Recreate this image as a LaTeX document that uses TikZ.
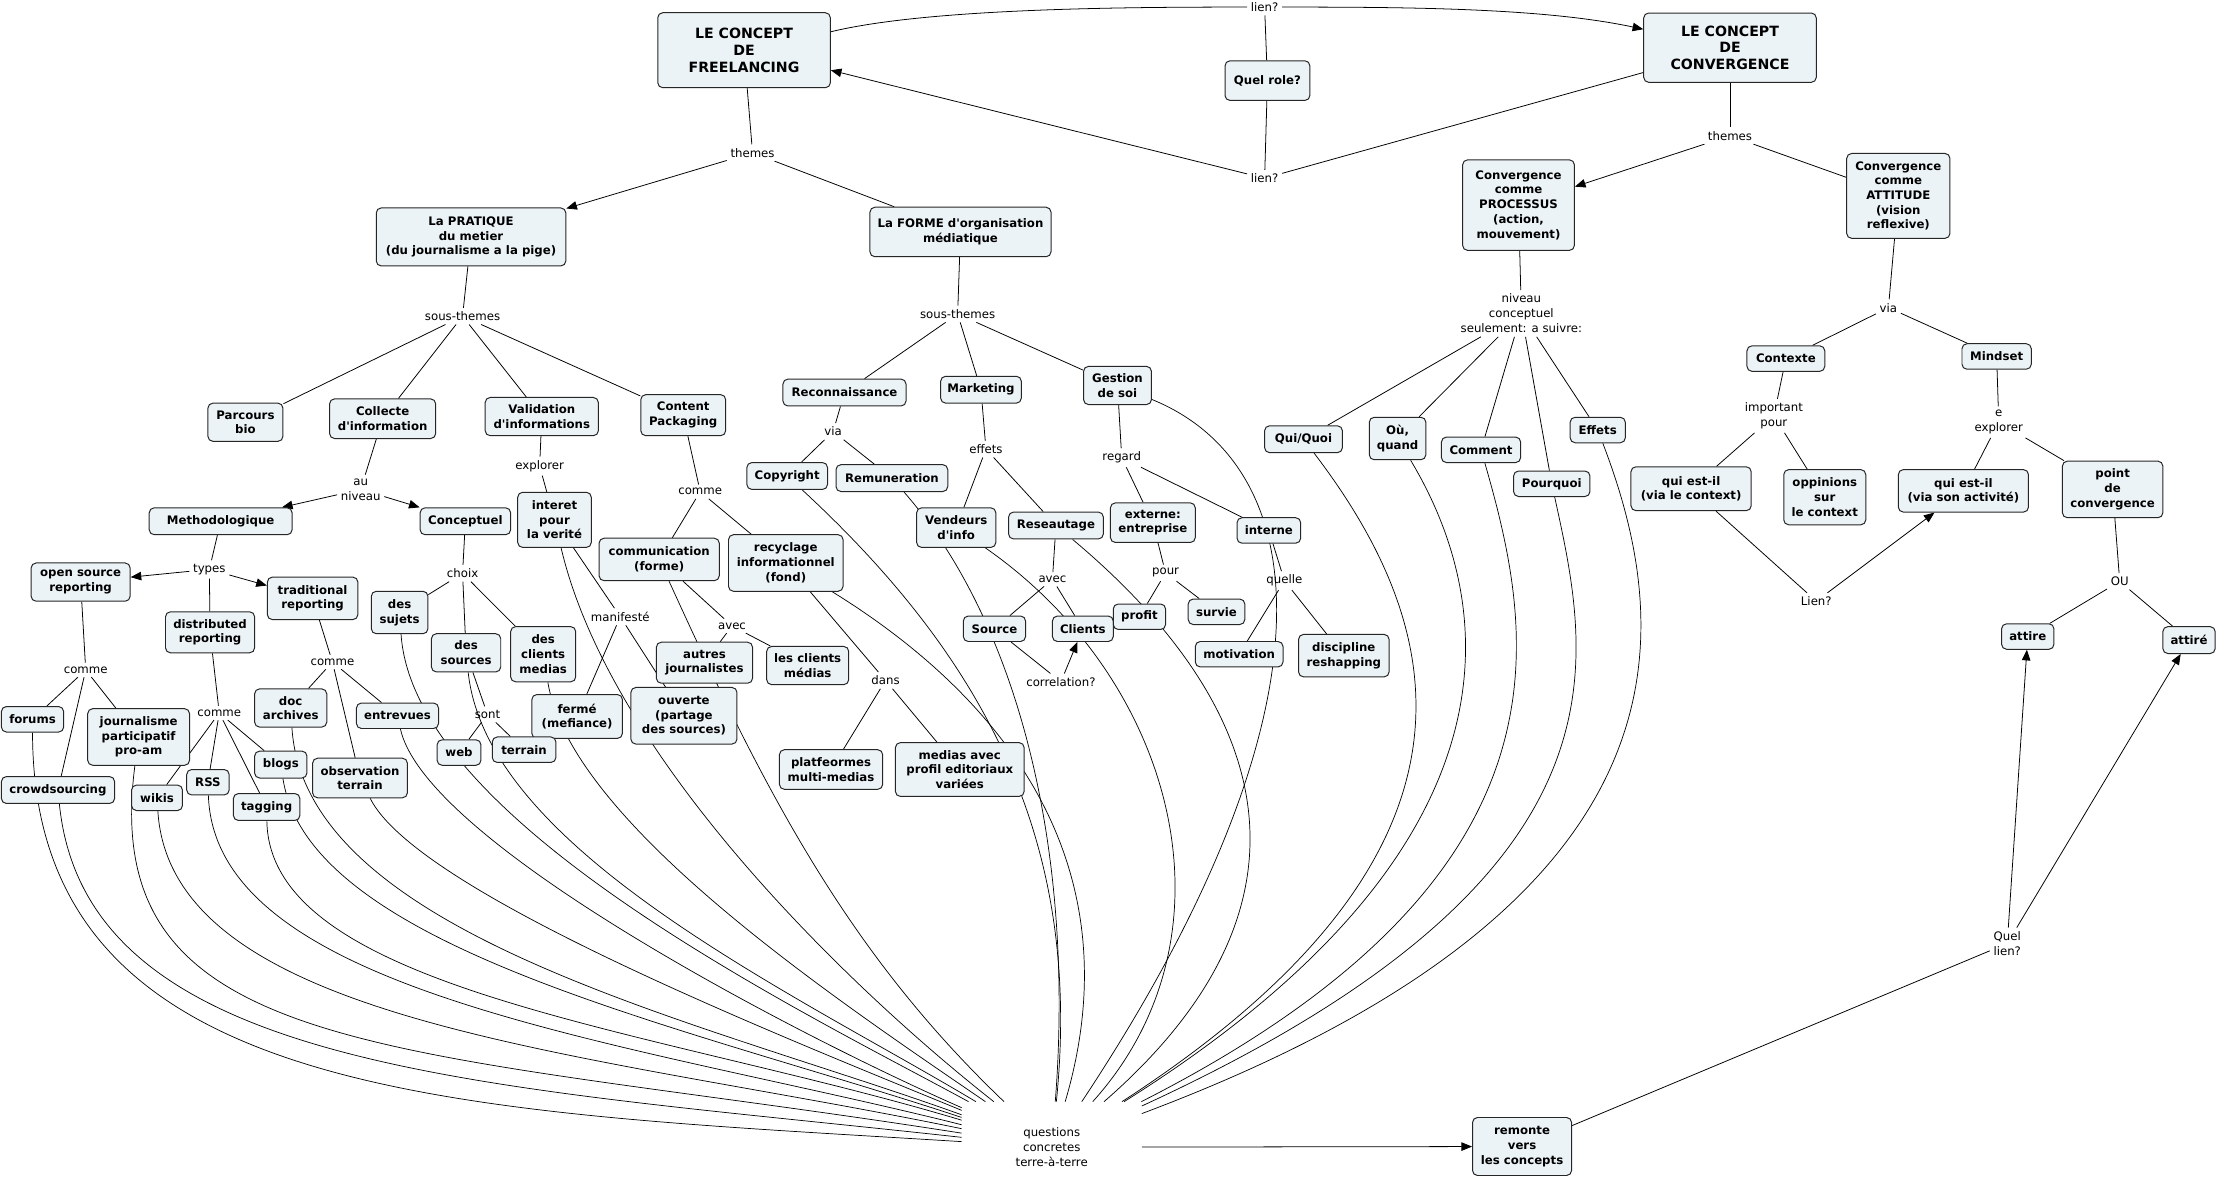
\documentclass[tikz,border=0pt]{standalone}
\usepackage{fontspec}
\setmainfont{DejaVu Sans}[Ligatures=TeXOff]
\usetikzlibrary{arrows.meta}
\definecolor{cfill}{RGB}{236,243,246}
\pgfdeclarelayer{bg}
\pgfdeclarelayer{edges}
\pgfsetlayers{bg,edges,main}
\newcommand\mkc[5]{\node[cb,minimum width=#4pt,minimum height=#5pt] (#1) at (#2) {#3};}
\newcommand\mkl[3]{\node[lk] (#1) at (#2) {#3};}
\begin{document}
\begin{tikzpicture}[x=1pt,y=-1pt,
  cb/.style={draw=black!85, fill=cfill, rounded corners=3.5pt, line width=0.7pt, align=center, inner sep=0pt, font=\bfseries\fontsize{8.3}{10.4}\selectfont},
  tb/.style={cb, font=\bfseries\fontsize{10}{11.8}\selectfont},
  lk/.style={align=center, inner sep=2.5pt, font=\fontsize{8.3}{10.6}\selectfont},
  ln/.style={line width=0.55pt},
  ar/.style={line width=0.55pt, -{Triangle[length=7.5pt,width=6pt]}},
  qc/.style={line width=0.5pt}]
\useasboundingbox (0,0) rectangle (1568,843);
\begin{pgfonlayer}{bg}
\fill[white] (0,0) rectangle (1568,843);
\end{pgfonlayer}

% ---------- concepts ----------
\node[tb,minimum width=122pt,minimum height=53pt] (FREE) at (526,35.5) {LE CONCEPT\\DE\\FREELANCING};
\node[tb,minimum width=122pt,minimum height=49pt] (CONV) at (1223,33.7) {LE CONCEPT\\DE\\CONVERGENCE};
\mkc{QR}{896,57}{Quel role?}{60}{28}
\mkc{PRAT}{333,167.5}{La PRATIQUE\\du metier\\(du journalisme a la pige)}{134}{41}
\mkc{FORME}{679,164}{La FORME d'organisation\\médiatique}{128}{35}
\mkc{Parcours}{173.5,298.5}{Parcours\\bio}{53}{27}
\mkc{Collecte}{270.5,296}{Collecte\\d'information}{75}{28}
\mkc{Validation}{383,294.5}{Validation\\d'informations}{80}{27}
\mkc{Content}{483,293.5}{Content\\Packaging}{60}{29}
\mkc{Reconn}{597,277.5}{Reconnaissance}{87}{19}
\mkc{Marketing}{693.5,275.5}{Marketing}{57}{19}
\mkc{Gestion}{790,272.5}{Gestion\\de soi}{48}{27}
\mkc{Copyright}{556.5,336.5}{Copyright}{57}{19}
\mkc{Remun}{630.5,338}{Remuneration}{79}{19}
\mkc{Vendeurs}{676,373}{Vendeurs\\d'info}{56}{28}
\mkc{Reseautage}{746.5,371.5}{Reseautage}{67}{19}
\mkc{externe}{815,369.5}{externe:\\entreprise}{60}{28}
\mkc{interne}{897,375}{interne}{45}{18}
\mkc{Method}{156,368.5}{Methodologique}{101}{19}
\mkc{Concept}{329,368.5}{Conceptuel}{64}{19}
\mkc{interet}{392,367.5}{interet\\pour\\la verité}{52}{39}
\mkc{commun}{466,395.5}{communication\\(forme)}{85}{30}
\mkc{recyclage}{555.5,398}{recyclage\\informationnel\\(fond)}{81}{40}
\mkc{opensrc}{57,411.5}{open source\\reporting}{70}{27}
\mkc{traditional}{221,423}{traditional\\reporting}{64}{30}
\mkc{distributed}{148.5,447}{distributed\\reporting}{63}{29}
\mkc{dessujets}{282.5,433}{des\\sujets}{40}{30}
\mkc{dessources}{329.5,461.5}{des\\sources}{49}{27}
\mkc{desclients}{384,462.5}{des\\clients\\medias}{46}{39}
\mkc{ferme}{408,506.5}{fermé\\(mefiance)}{64}{31}
\mkc{ouverte}{483.5,506}{ouverte\\(partage\\des sources)}{75}{40}
\mkc{autres}{498,468.5}{autres\\journalistes}{68}{29}
\mkc{lesclients}{571,470.5}{les clients\\médias}{58}{27}
\mkc{platf}{587.5,544}{platfeormes\\multi-medias}{73}{28}
\mkc{medias}{678.5,544}{medias avec\\profil editoriaux\\variées}{91}{38}
\mkc{Source}{703,444.5}{Source}{44}{18}
\mkc{Clients}{765.5,444.5}{Clients}{43}{18}
\mkc{profit}{805.5,436}{profit}{37}{18}
\mkc{survie}{860,432.5}{survie}{40}{18}
\mkc{motivation}{876,462.5}{motivation}{62}{18}
\mkc{discipline}{950,463.5}{discipline\\reshapping}{64}{30}
\mkc{PROC}{1073.5,145}{Convergence\\comme\\PROCESSUS\\(action,\\mouvement)}{79}{64}
\mkc{ATT}{1342,138.5}{Convergence\\comme\\ATTITUDE\\(vision\\reflexive)}{73}{60}
\mkc{QuiQuoi}{921.5,310.5}{Qui/Quoi}{55}{19}
\mkc{Ou}{988,310}{Où,\\quand}{40}{30}
\mkc{Comment}{1047,318}{Comment}{56}{18}
\mkc{Pourquoi}{1097,342}{Pourquoi}{54}{18}
\mkc{Effets}{1129.5,304}{Effets}{39}{18}
\mkc{Contexte}{1262.5,253.5}{Contexte}{55}{18}
\mkc{Mindset}{1411.5,252}{Mindset}{49}{18}
\mkc{quiContext}{1195.5,345.5}{qui est-il\\(via le context)}{85}{31}
\mkc{oppinions}{1290,351.5}{oppinions\\sur\\le context}{58}{39}
\mkc{quiActiv}{1388,347}{qui est-il\\(via son activité)}{92}{30}
\mkc{point}{1493.5,346}{point\\de\\convergence}{71}{40}
\mkc{attire}{1433.5,450}{attire}{37}{18}
\mkc{attireB}{1547.5,452.5}{attiré}{37}{19}
\mkc{remonte}{1076,810.5}{remonte\\vers\\les concepts}{70}{41}
\mkc{forums}{23,508.5}{forums}{44}{18}
\mkc{crowd}{41,558.5}{crowdsourcing}{80}{19}
\mkc{journ}{98,521}{journalisme\\participatif\\pro-am}{72}{40}
\mkc{wikis}{111,564}{wikis}{36}{18}
\mkc{RSS}{147,553}{RSS}{30}{18}
\mkc{blogs}{198.5,540.5}{blogs}{37}{19}
\mkc{tagging}{188.5,570.5}{tagging}{47}{19}
\mkc{doc}{205.5,500.5}{doc\\archives}{51}{27}
\mkc{entrevues}{281,506}{entrevues}{58}{18}
\mkc{observ}{254.5,550}{observation\\terrain}{67}{28}
\mkc{web}{324.5,532}{web}{31}{18}
\mkc{terrain}{370.5,530}{terrain}{45}{18}

% ---------- linking phrases ----------
\mkl{lienA}{894,5}{lien?}
\mkl{lienB}{894,126}{lien?}
\mkl{themesA}{532,108}{themes}
\mkl{themesB}{1223,96}{themes}
\mkl{stA}{327,223.5}{sous-themes}
\mkl{stB}{677,222}{sous-themes}
\mkl{viaA}{589,305}{via}
\mkl{effets}{697,317.5}{effets}
\mkl{regard}{793,323.6}{regard}
\mkl{auniveau}{255,346}{au\\niveau}
\mkl{explorerA}{381.5,329.5}{explorer}
\mkl{commeA}{495,347.6}{comme}
\mkl{types}{148,402.5}{types}
\mkl{choix}{327,405.3}{choix}
\mkl{manifeste}{438.5,436}{manifesté}
\mkl{avecA}{517.5,442.5}{avec}
\mkl{dans}{626,481}{dans}
\mkl{avecB}{744,409.5}{avec}
\mkl{correl}{750,482}{correlation?}
\mkl{pour}{824,405}{pour}
\mkl{quelle}{908,410.5}{quelle}
\mkl{commeB}{60.6,473.6}{comme}
\mkl{commeC}{155,504}{comme}
\mkl{commeD}{235,468}{comme}
\mkl{sont}{344.6,505}{sont}
\mkl{niveau}{1075.5,221.6}{niveau\\conceptuel\\seulement: a suivre:}
\mkl{viaB}{1335,217.5}{via}
\mkl{imppour}{1254,294}{important\\pour}
\mkl{eexpl}{1413,298.4}{e\\explorer}
\mkl{LienC}{1284,425}{Lien?}
\mkl{OU}{1498.5,411}{OU}
\mkl{Quellien}{1419,667}{Quel\\lien?}
\node[lk,minimum width=127pt,minimum height=64pt,inner sep=0pt] (q) at (743.5,811) {questions\\concretes\\terre-à-terre};

% ---------- connectors ----------
\begin{pgfonlayer}{edges}
\draw[ln] (FREE.12) .. controls +(70,-17) and +(-80,0) .. (lienA.west);
\draw[ar] (lienA.east) .. controls +(90,0) and +(-70,-15) .. (CONV.168);
\draw[ln] (lienA) -- (QR);
\draw[ln] (QR) -- (lienB);
\draw[ln] (CONV.196) -- (lienB);
\draw[ar] (lienB) -- (FREE.-13);

\draw[ln] (FREE) -- (themesA);
\draw[ar] (themesA) -- (PRAT);
\draw[ln] (themesA) -- (FORME);
\draw[ln] (CONV) -- (themesB);
\draw[ar] (themesB) -- (PROC);
\draw[ln] (themesB) -- (ATT);

\draw[ln] (PRAT) -- (stA);
\foreach \t in {Parcours,Collecte,Validation,Content} \draw[ln] (stA) -- (\t);
\draw[ln] (FORME) -- (stB);
\foreach \t in {Reconn,Marketing,Gestion} \draw[ln] (stB) -- (\t);

\draw[ln] (Collecte) -- (auniveau);
\draw[ar] (auniveau) -- (Method);
\draw[ar] (auniveau) -- (Concept);
\draw[ln] (Validation) -- (explorerA);
\draw[ln] (explorerA) -- (interet);
\draw[ln] (Content) -- (commeA);
\draw[ln] (commeA) -- (commun);
\draw[ln] (commeA) -- (recyclage);
\draw[ln] (Reconn) -- (viaA);
\draw[ln] (viaA) -- (Copyright);
\draw[ln] (viaA) -- (Remun);
\draw[ln] (Marketing) -- (effets);
\draw[ln] (effets) -- (Vendeurs);
\draw[ln] (effets) -- (Reseautage);
\draw[ln] (Gestion) -- (regard);
\draw[ln] (regard) -- (externe);
\draw[ln] (regard) -- (interne);

\draw[ln] (Method) -- (types);
\draw[ar] (types) -- (opensrc);
\draw[ar] (types) -- (traditional);
\draw[ln] (types) -- (distributed);
\draw[ln] (Concept) -- (choix);
\foreach \t in {dessujets,dessources,desclients} \draw[ln] (choix) -- (\t);
\draw[ln] (interet) -- (manifeste);
\draw[ln] (manifeste) -- (ferme);
\draw[ln] (manifeste) -- (ouverte);
\draw[ln] (commun) -- (avecA);
\draw[ln] (avecA) -- (autres);
\draw[ln] (avecA) -- (lesclients);
\draw[ln] (recyclage) -- (dans);
\draw[ln] (dans) -- (platf);
\draw[ln] (dans) -- (medias);
\draw[ln] (Reseautage) -- (avecB);
\draw[ln] (avecB) -- (Source);
\draw[ln] (avecB) -- (Clients);
\draw[ln] (Source) -- (correl);
\draw[ar] (correl) -- (Clients);
\draw[ln] (externe) -- (pour);
\draw[ln] (pour) -- (profit);
\draw[ln] (pour) -- (survie);
\draw[ln] (interne) -- (quelle);
\draw[ln] (quelle) -- (motivation);
\draw[ln] (quelle) -- (discipline);

\draw[ln] (opensrc) -- (commeB);
\foreach \t in {forums,crowd,journ} \draw[ln] (commeB) -- (\t);
\draw[ln] (distributed) -- (commeC);
\foreach \t in {wikis,RSS,blogs,tagging} \draw[ln] (commeC) -- (\t);
\draw[ln] (traditional) -- (commeD);
\foreach \t in {doc,entrevues,observ} \draw[ln] (commeD) -- (\t);
\draw[ln] (dessources) -- (sont);
\draw[ln] (sont) -- (web);
\draw[ln] (sont) -- (terrain);

\draw[ln] (PROC) -- (niveau);
\foreach \t in {QuiQuoi,Ou,Comment,Pourquoi,Effets} \draw[ln] (niveau) -- (\t);
\draw[ln] (ATT) -- (viaB);
\draw[ln] (viaB) -- (Contexte);
\draw[ln] (viaB) -- (Mindset);
\draw[ln] (Contexte) -- (imppour);
\draw[ln] (imppour) -- (quiContext);
\draw[ln] (imppour) -- (oppinions);
\draw[ln] (Mindset) -- (eexpl);
\draw[ln] (eexpl) -- (quiActiv);
\draw[ln] (eexpl) -- (point);
\draw[ln] (quiContext) -- (LienC);
\draw[ar] (LienC) -- (quiActiv);
\draw[ln] (point) -- (OU);
\draw[ln] (OU) -- (attire);
\draw[ln] (OU) -- (attireB);

\draw[ar] (q) -- (remonte);
\draw[ln] (remonte) -- (Quellien);
\draw[ar] (Quellien) -- (attire);
\draw[ar] (Quellien) -- (attireB);

% curves into "questions concretes terre-a-terre"
\draw[qc] (forums) .. controls +(0,272) and +(-420,-26) .. (q);
\draw[qc] (crowd) .. controls +(20,200) and +(-400,-44) .. (q);
\draw[qc] (journ) .. controls +(-30,230) and +(-460,-72) .. (q);
\draw[qc] (wikis) .. controls +(10,160) and +(-330,-68) .. (q);
\draw[qc] (RSS) .. controls +(5,150) and +(-300,-75) .. (q);
\draw[qc] (tagging) .. controls +(2,130) and +(-280,-84) .. (q);
\draw[qc] (blogs) .. controls +(20,130) and +(-260,-86) .. (q);
\draw[qc] (doc) .. controls +(10,160) and +(-250,-90) .. (q);
\draw[qc] (observ) .. controls +(40,80) and +(-200,-82) .. (q);
\draw[qc] (entrevues) .. controls +(20,90) and +(-180,-79) .. (q);
\draw[qc] (dessujets) .. controls +(10,150) and +(-170,-93) .. (q);
\draw[qc] (dessources) .. controls +(15,140) and +(-180,-108) .. (q);
\draw[qc] (desclients) .. controls +(20,120) and +(-150,-103) .. (q);
\draw[qc] (interet) .. controls +(40,170) and +(-140,-110) .. (q);
\draw[qc] (commun) .. controls +(75,165) and +(-143.5,-137) .. (q);
\draw[qc] (Copyright) .. controls +(144,133) and +(21.5,-211) .. (q);
\draw[qc] (recyclage) .. controls +(165,102) and +(56.5,-191) .. (q);
\draw[qc] (Remun) .. controls +(89,102) and +(16.5,-211) .. (q);
\draw[qc] (Vendeurs) .. controls +(154,107) and +(136,-151) .. (q);
\draw[qc] (Reseautage) .. controls +(154,129) and +(196.5,-171) .. (q);
\draw[qc] (Gestion) .. controls +(140,57) and +(206,-311) .. (q);
\draw[qc] (QuiQuoi) .. controls +(99,130) and +(326,-211) .. (q);
\draw[qc] (Ou) .. controls +(72,120) and +(336,-211) .. (q);
\draw[qc] (Comment) .. controls +(38,132) and +(376,-191) .. (q);
\draw[qc] (Pourquoi) .. controls +(28,128) and +(416,-191) .. (q);
\draw[qc] (Effets) .. controls +(56,146) and +(456,-171) .. (q);
\end{pgfonlayer}
\end{tikzpicture}
\end{document}
